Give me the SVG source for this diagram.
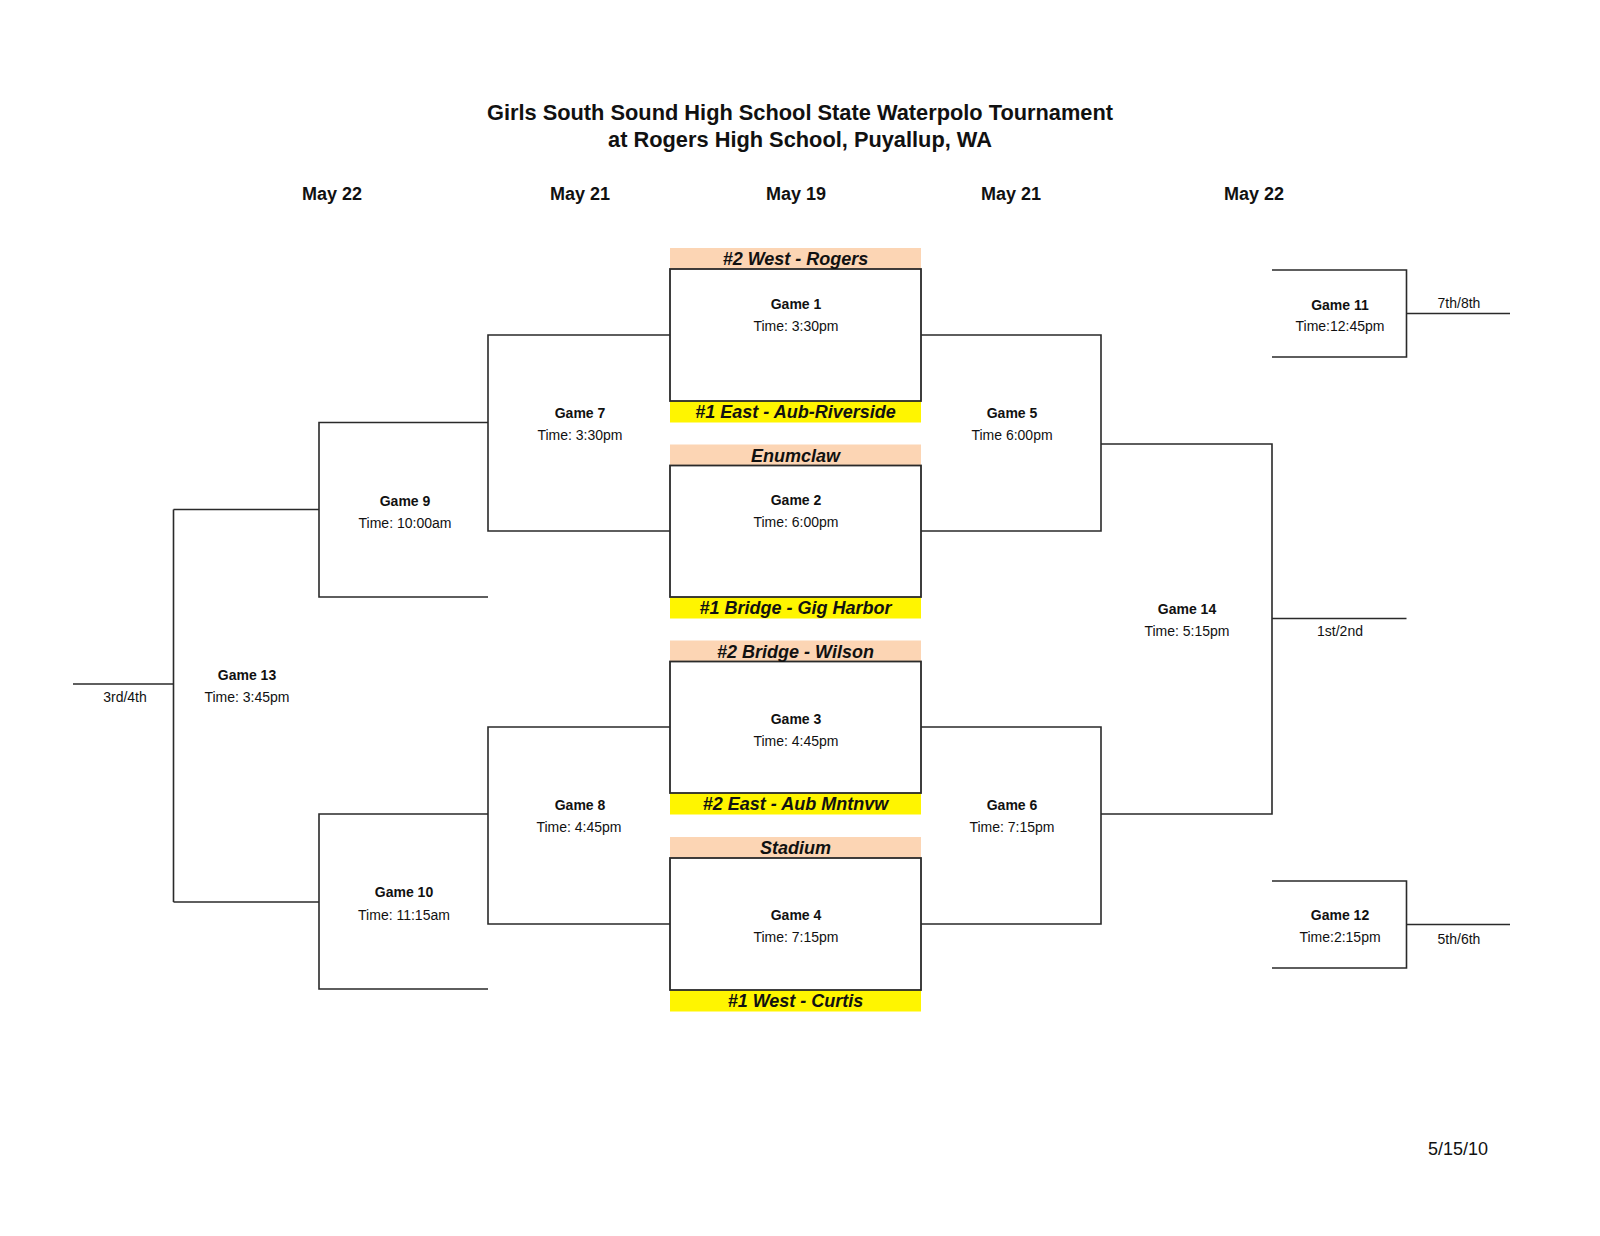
<svg xmlns="http://www.w3.org/2000/svg" width="1600" height="1236" viewBox="0 0 1600 1236">
<style>
text{font-family:"Liberation Sans",Arial,sans-serif;fill:#111}
.title{font-size:21.8px;font-weight:bold;text-anchor:middle}
.date{font-size:18px;font-weight:bold;text-anchor:middle}
.g{font-size:14px;font-weight:bold;text-anchor:middle}
.t{font-size:14px;text-anchor:middle}
.team{font-size:18px;font-weight:bold;font-style:italic;text-anchor:middle}
.ln{fill:none;stroke:#2a2a2a;stroke-width:1.6}
.box{fill:#fff;stroke:#2a2a2a;stroke-width:1.8}
.top{fill:#FCD5B4}
.bot{fill:#FFF500}
</style>
<rect width="1600" height="1236" fill="#fff"/>
<g id="title">
<text class="title" x="800" y="119.5">Girls South Sound High School State Waterpolo Tournament</text>
<text class="title" x="800" y="147">at Rogers High School, Puyallup, WA</text>
</g>
<g id="dates">
<text class="date" x="332" y="199.5">May 22</text>
<text class="date" x="580" y="199.5">May 21</text>
<text class="date" x="796" y="199.5">May 19</text>
<text class="date" x="1011" y="199.5">May 21</text>
<text class="date" x="1254" y="199.5">May 22</text>
</g>
<g id="connectors">
<path class="ln" d="M670 335 H488 V531 H670"/>
<path class="ln" d="M670 727 H488 V924 H670"/>
<path class="ln" d="M488 422.5 H319 V597 H488"/>
<path class="ln" d="M319 509.5 H173.5"/>
<path class="ln" d="M488 814 H319 V989 H488"/>
<path class="ln" d="M319 902 H173.5"/>
<path class="ln" d="M173.5 509.5 V902"/>
<path class="ln" d="M173.5 684 H73"/>
<path class="ln" d="M920 335 H1101 V531 H920"/>
<path class="ln" d="M920 727 H1101 V924 H920"/>
<path class="ln" d="M1101 444 H1272 V814 H1101"/>
<path class="ln" d="M1272 618.5 H1406.5"/>
<path class="ln" d="M1272 270 H1406.5 V357 H1272"/>
<path class="ln" d="M1406.5 313.5 H1510"/>
<path class="ln" d="M1272 881 H1406.5 V968 H1272"/>
<path class="ln" d="M1406.5 924.5 H1510"/>
</g>
<g id="game1">
<rect class="top" x="670" y="248" width="251" height="21"/>
<rect class="bot" x="670" y="401" width="251" height="21.5"/>
<rect class="box" x="670" y="269" width="251" height="132"/>
<text class="team" x="795.5" y="265">#2 West - Rogers</text>
<text class="team" x="795.5" y="418">#1 East - Aub-Riverside</text>
<text class="g" x="796" y="309">Game 1</text>
<text class="t" x="796" y="331">Time: 3:30pm</text>
</g>
<g id="game2">
<rect class="top" x="670" y="444.5" width="251" height="21"/>
<rect class="bot" x="670" y="597" width="251" height="21.5"/>
<rect class="box" x="670" y="465.5" width="251" height="131.5"/>
<text class="team" x="795.5" y="461.5">Enumclaw</text>
<text class="team" x="795.5" y="614">#1 Bridge - Gig Harbor</text>
<text class="g" x="796" y="505">Game 2</text>
<text class="t" x="796" y="527">Time: 6:00pm</text>
</g>
<g id="game3">
<rect class="top" x="670" y="640.5" width="251" height="21"/>
<rect class="bot" x="670" y="793" width="251" height="21.5"/>
<rect class="box" x="670" y="661.5" width="251" height="131.5"/>
<text class="team" x="795.5" y="657.5">#2 Bridge - Wilson</text>
<text class="team" x="795.5" y="810">#2 East - Aub Mntnvw</text>
<text class="g" x="796" y="723.5">Game 3</text>
<text class="t" x="796" y="745.5">Time: 4:45pm</text>
</g>
<g id="game4">
<rect class="top" x="670" y="837" width="251" height="21"/>
<rect class="bot" x="670" y="990" width="251" height="21.5"/>
<rect class="box" x="670" y="858" width="251" height="132"/>
<text class="team" x="795.5" y="854">Stadium</text>
<text class="team" x="795.5" y="1007">#1 West - Curtis</text>
<text class="g" x="796" y="920">Game 4</text>
<text class="t" x="796" y="941.5">Time: 7:15pm</text>
</g>
<g id="game7">
<text class="g" x="580" y="418">Game 7</text>
<text class="t" x="580" y="440">Time: 3:30pm</text>
</g>
<g id="game8">
<text class="g" x="580" y="810">Game 8</text>
<text class="t" x="579" y="832">Time: 4:45pm</text>
</g>
<g id="game9">
<text class="g" x="405" y="505.5">Game 9</text>
<text class="t" x="405" y="527.5">Time: 10:00am</text>
</g>
<g id="game10">
<text class="g" x="404" y="897">Game 10</text>
<text class="t" x="404" y="919.5">Time: 11:15am</text>
</g>
<g id="game13">
<text class="g" x="247" y="679.5">Game 13</text>
<text class="t" x="247" y="701.5">Time: 3:45pm</text>
<text class="t" x="125" y="701.5">3rd/4th</text>
</g>
<g id="game5">
<text class="g" x="1012" y="418">Game 5</text>
<text class="t" x="1012" y="440">Time 6:00pm</text>
</g>
<g id="game6">
<text class="g" x="1012" y="810">Game 6</text>
<text class="t" x="1012" y="832">Time: 7:15pm</text>
</g>
<g id="game14">
<text class="g" x="1187" y="614">Game 14</text>
<text class="t" x="1187" y="636">Time: 5:15pm</text>
<text class="t" x="1340" y="636">1st/2nd</text>
</g>
<g id="game11">
<text class="g" x="1340" y="309.5">Game 11</text>
<text class="t" x="1340" y="331">Time:12:45pm</text>
<text class="t" x="1459" y="308">7th/8th</text>
</g>
<g id="game12">
<text class="g" x="1340" y="919.5">Game 12</text>
<text class="t" x="1340" y="941.5">Time:2:15pm</text>
<text class="t" x="1459" y="943.5">5th/6th</text>
</g>
<g id="footer">
<text x="1428" y="1155" style="font-size:18px">5/15/10</text>
</g>
</svg>
